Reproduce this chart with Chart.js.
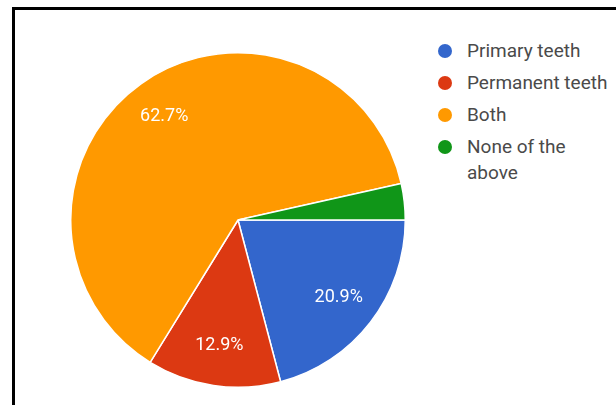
<!DOCTYPE html>
<html>
<head>
<meta charset="utf-8">
<script src="https://cdn.jsdelivr.net/npm/chart.js@4"></script>
<style>
  html, body { margin: 0; padding: 0; background: #fff; }
  body { width: 616px; height: 405px; position: relative; overflow: hidden; font-family: Roboto, Arial, sans-serif; }
  #frame { position: absolute; left: 12px; top: 7px; width: 620px; height: 420px; border-top: 3px solid #000; border-left: 3px solid #000; }
  #wrap { position: absolute; left: 70px; top: 52px; width: 336px; height: 336px; }
  #legend { position: absolute; left: 438px; top: 35px; }
  .item { position: relative; min-height: 32px; }
  .dot { position: absolute; left: 0; top: 9px; width: 14px; height: 14px; border-radius: 50%; }
  .txt { position: absolute; left: 29px; top: 3px; width: 150px; font-size: 19px; line-height: 26px; color: #4a4a4a; }
</style>
</head>
<body>
<div id="frame"></div>
<div id="wrap"><canvas id="pie"></canvas></div>
<div id="legend"></div>
<script>
// answers and their share of responses (%)
const answers = ['Primary teeth', 'Permanent teeth', 'Both', 'None of the above'];
const shares = [20.9, 12.9, 62.7, 3.5];
const colors = ['#3366cc', '#dc3912', '#ff9900', '#109618'];

// draws the percentage inside each big enough slice
const sliceLabels = {
    id: 'sliceLabels',
    afterDatasetsDraw(chart) {
        const ctx = chart.ctx;
        const meta = chart.getDatasetMeta(0);
        const total = shares.reduce((a, b) => a + b, 0);
        ctx.save();
        ctx.fillStyle = '#fff';
        ctx.font = '18px Roboto, Arial, sans-serif';
        ctx.textAlign = 'center';
        ctx.textBaseline = 'middle';
        meta.data.forEach((arc, i) => {
            const pct = shares[i] / total * 100;
            if (pct < 5) return;
            const mid = (arc.startAngle + arc.endAngle) / 2;
            const r = arc.outerRadius * 0.76;
            ctx.fillText(pct.toFixed(1) + '%', arc.x + Math.cos(mid) * r, arc.y + Math.sin(mid) * r);
        });
        ctx.restore();
    }
};

new Chart(document.getElementById('pie'), {
    type: 'pie',
    data: {
        labels: answers,
        datasets: [{
            data: shares,
            backgroundColor: colors,
            borderColor: '#fff',
            borderWidth: 1.5
        }]
    },
    options: {
        responsive: true,
        maintainAspectRatio: false,
        animation: false,
        rotation: 90,
        plugins: {
            legend: { display: false },
            tooltip: { enabled: false }
        }
    },
    plugins: [sliceLabels]
});

// legend on the right
const legend = document.getElementById('legend');
answers.forEach((name, i) => {
    const item = document.createElement('div');
    item.className = 'item';
    item.innerHTML = '<span class="dot" style="background:' + colors[i] + '"></span><span class="txt">' + name + '</span>';
    legend.appendChild(item);
});
</script>
</body>
</html>
